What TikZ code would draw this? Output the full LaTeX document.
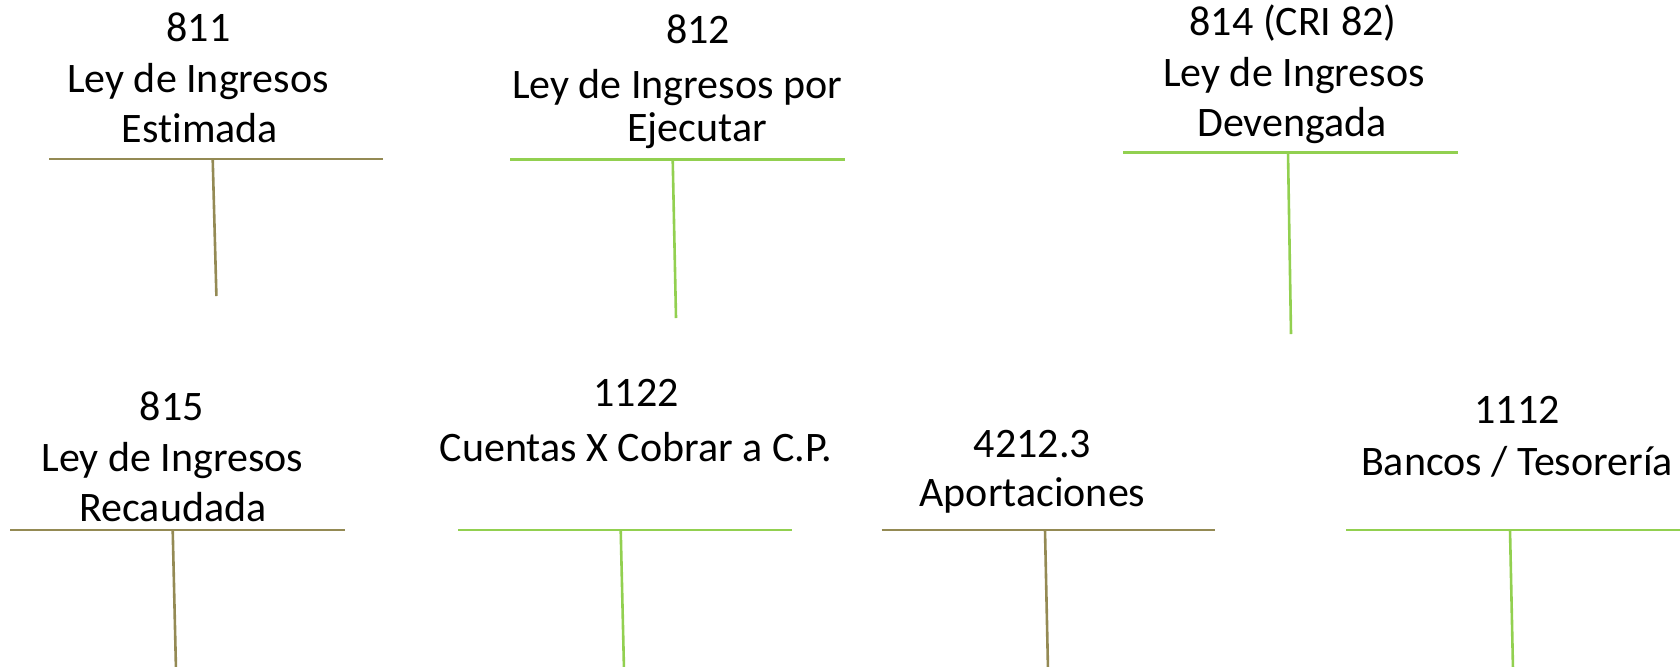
\documentclass[tikz,border=0pt]{standalone}
\usepackage{fontspec}
\setmainfont{Carlito}[Ligatures={NoCommon}]
\definecolor{tolive}{HTML}{948A54}
\definecolor{tgreen}{HTML}{92D050}
\tikzset{
  lbl/.style={anchor=base, inner sep=0pt, font=\fontsize{21pt}{25pt}\selectfont},
  olivel/.style={draw=tolive, line width=1.3pt},
  greenl/.style={draw=tgreen, line width=1.3pt},
}
\newcommand\tcuenta[8]{%
  \coordinate (#1L) at (#3,#5);
  \coordinate (#1R) at (#4,#5);
  \coordinate (#1T) at (#6,#5);
  \coordinate (#1B) at (#7,#8);
  \draw[#2] (#1L) -- (#1R);
  \draw[#2] (#1T) -- (#1B);}
\begin{document}
\begin{tikzpicture}[x=0.5pt,y=-0.5pt]
\useasboundingbox (0,0) rectangle (1680,666);
% account 811
\node[lbl] (a1n) at (198.5,41.7) {811};
\node[lbl] (a1a) at (198,92.7) {Ley de Ingresos};
\node[lbl] (a1b) at (200,142.7) {Estimada};
\tcuenta{a1}{olivel}{49}{383}{159}{212.7}{216.4}{296}
% account 812
\node[lbl] (a2n) at (698,43.3) {812};
\node[lbl] (a2a) at (677,98) {Ley de Ingresos por};
\node[lbl] (a2b) at (697,141.7) {Ejecutar};
\tcuenta{a2}{greenl}{510}{845}{159.3}{672.7}{676}{318}
% account 814
\node[lbl] (a3n) at (1293,35) {814 (CRI 82)};
\node[lbl] (a3a) at (1294,86.7) {Ley de Ingresos};
\node[lbl] (a3b) at (1292,136.7) {Devengada};
\tcuenta{a3}{greenl}{1123}{1458}{152.3}{1288}{1291}{334}
% account 815
\node[lbl] (a4n) at (171.7,420) {815};
\node[lbl] (a4a) at (172.5,471.7) {Ley de Ingresos};
\node[lbl] (a4b) at (173,521.7) {Recaudada};
\tcuenta{a4}{olivel}{10}{345}{530}{172.7}{176}{670}
% account 1122
\node[lbl] (a5n) at (636,406) {1122};
\node[lbl] (a5a) at (636,461.7) {Cuentas X Cobrar a C.P.};
\tcuenta{a5}{greenl}{458}{791.7}{530}{620.7}{624}{670}
% account 4212.3
\node[lbl] (a6n) at (1032.5,457.3) {4212.3};
\node[lbl] (a6a) at (1032.5,506.7) {Aportaciones};
\tcuenta{a6}{olivel}{881.7}{1215}{530}{1045}{1048}{670}
% account 1112
\node[lbl] (a7n) at (1517,423.3) {1112};
\node[lbl] (a7a) at (1517,475) {Bancos / Tesorería};
\tcuenta{a7}{greenl}{1346}{1680}{530}{1510}{1513}{670}
\end{tikzpicture}
\end{document}
